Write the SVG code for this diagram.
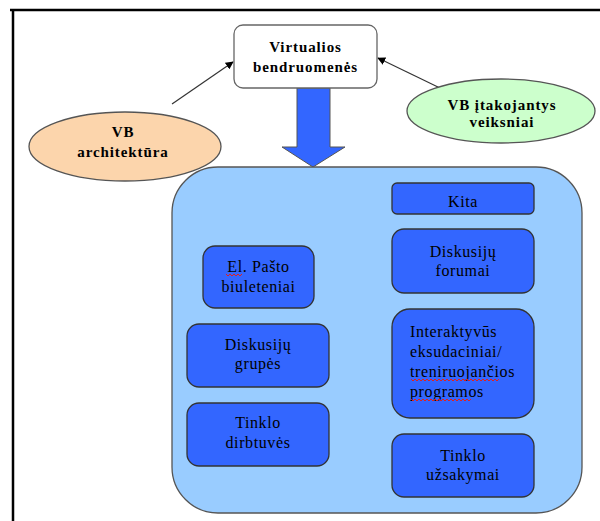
<svg xmlns="http://www.w3.org/2000/svg" width="600" height="521" viewBox="0 0 600 521">
  <defs>
    <marker id="arrowhead" viewBox="0 0 10 10" refX="9" refY="5" markerWidth="8" markerHeight="8" markerUnits="userSpaceOnUse" orient="auto">
      <path d="M0,0 L10,5 L0,10 z" fill="#000"/>
    </marker>
    <style>
      .frame { stroke: #000; stroke-width: 2.5; fill: none; }
      .conn { stroke: #333; stroke-width: 1.2; fill: none; marker-end: url(#arrowhead); }
      text { font-family: 'Liberation Serif', 'DejaVu Serif', serif; fill: #000; }
      .bold { font-weight: bold; font-size: 15px; letter-spacing: 0.9px; }
      .item { font-size: 16px; letter-spacing: 0.6px; }
      .box { fill: #3366FF; stroke: #333; stroke-width: 1.3; }
      .squiggle { stroke: #E0201E; stroke-width: 1; fill: none; }
    </style>
  </defs>

  <rect width="600" height="521" fill="#fff"/>

  <!-- page frame (top and left edges) -->
  <path class="frame" d="M10,10 H600 M13,10 V521"/>

  <!-- connectors -->
  <g id="connectors">
    <line class="conn" x1="172" y1="104" x2="233" y2="62"/>
    <line class="conn" x1="440" y1="88" x2="378" y2="58"/>
    <path d="M297,88 H330 V147 H345 L313,167 L282,147 H297 Z" fill="#3366FF" stroke="#555" stroke-width="1"/>
  </g>

  <g id="virtualios">
    <rect x="234" y="25" width="143" height="63" rx="9" fill="#fff" stroke="#666" stroke-width="1.3"/>
    <text class="bold" text-anchor="middle" x="305.5" y="52">Virtualios</text>
    <text class="bold" text-anchor="middle" x="305.5" y="72">bendruomenės</text>
  </g>

  <g id="architektura">
    <ellipse cx="125" cy="146.5" rx="96" ry="34.5" fill="#FCD5AC" stroke="#555" stroke-width="1.3"/>
    <text class="bold" text-anchor="middle" x="123" y="137">VB</text>
    <text class="bold" text-anchor="middle" x="123" y="157">architektūra</text>
  </g>

  <g id="veiksniai">
    <ellipse cx="501" cy="111" rx="94" ry="32" fill="#CCFFCC" stroke="#555" stroke-width="1.3"/>
    <text class="bold" text-anchor="middle" x="502" y="110">VB įtakojantys</text>
    <text class="bold" text-anchor="middle" x="502" y="127">veiksniai</text>
  </g>

  <g id="container">
    <rect x="172" y="167" width="410" height="346" rx="46" fill="#99CCFF" stroke="#555" stroke-width="1.3"/>
  </g>

  <g id="kita">
    <rect class="box" x="392" y="183" width="142" height="31" rx="5"/>
    <text class="item" text-anchor="middle" x="463" y="207">Kita</text>
  </g>

  <g id="forumai">
    <rect class="box" x="392" y="229" width="142" height="64" rx="12"/>
    <text class="item" text-anchor="middle" x="463" y="257">Diskusijų</text>
    <text class="item" text-anchor="middle" x="463" y="276">forumai</text>
  </g>

  <g id="interaktyvus">
    <rect class="box" x="392" y="309" width="142" height="109" rx="18"/>
    <text class="item" x="410" y="337">Interaktyvūs</text>
    <text class="item" x="410" y="357">eksudaciniai/</text>
    <text class="item" x="410" y="377">treniruojančios</text>
    <text class="item" x="410" y="397">programos</text>
    <path class="squiggle" d="M411,379 l2,2 l2,-2 l2,2 l2,-2 l2,2 l2,-2 l2,2 l2,-2 l2,2 l2,-2 l2,2 l2,-2 l2,2 l2,-2 l2,2 l2,-2 l2,2 l2,-2 l2,2 l2,-2 l2,2 l2,-2 l2,2 l2,-2 l2,2 l2,-2 l2,2 l2,-2 l2,2 l2,-2 l2,2 l2,-2 l2,2 l2,-2 l2,2 l2,-2 l2,2 l2,-2 l2,2 l2,-2 l2,2 l2,-2 l2,2 l2,-2"/>
    <path class="squiggle" d="M411,399 l2,2 l2,-2 l2,2 l2,-2 l2,2 l2,-2 l2,2 l2,-2 l2,2 l2,-2 l2,2 l2,-2 l2,2 l2,-2 l2,2 l2,-2 l2,2 l2,-2 l2,2 l2,-2 l2,2 l2,-2 l2,2 l2,-2 l2,2 l2,-2 l2,2 l2,-2 l2,2 l2,-2"/>
  </g>

  <g id="uzsakymai">
    <rect class="box" x="392" y="434" width="142" height="63" rx="12"/>
    <text class="item" text-anchor="middle" x="463" y="461">Tinklo</text>
    <text class="item" text-anchor="middle" x="463" y="480">užsakymai</text>
  </g>

  <g id="biuleteniai">
    <rect class="box" x="203" y="246" width="111" height="62" rx="12"/>
    <text class="item" text-anchor="middle" x="258.5" y="272">El. Pašto</text>
    <text class="item" text-anchor="middle" x="258.5" y="292">biuleteniai</text>
    <path class="squiggle" d="M226,274 l2,2 l2,-2 l2,2 l2,-2 l2,2 l2,-2 l2,2 l2,-2"/>
  </g>

  <g id="grupes">
    <rect class="box" x="187" y="324" width="142" height="63" rx="12"/>
    <text class="item" text-anchor="middle" x="258" y="350">Diskusijų</text>
    <text class="item" text-anchor="middle" x="258" y="369">grupės</text>
  </g>

  <g id="dirbtuves">
    <rect class="box" x="187" y="403" width="142" height="63" rx="12"/>
    <text class="item" text-anchor="middle" x="258" y="428">Tinklo</text>
    <text class="item" text-anchor="middle" x="258" y="448">dirbtuvės</text>
  </g>
</svg>
